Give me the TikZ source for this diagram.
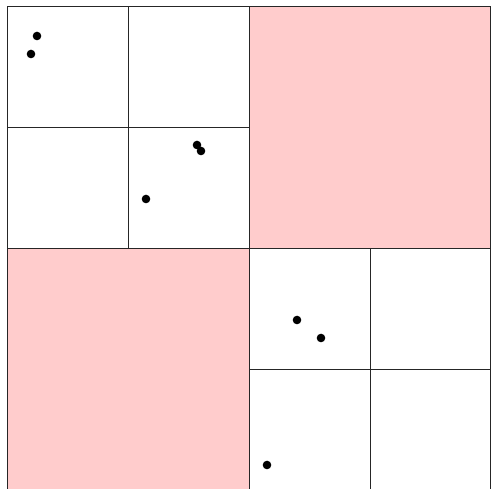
\documentclass[tikz,border=0pt]{standalone}
\usepackage{tikz}
\usetikzlibrary{backgrounds}
\definecolor{cellpink}{RGB}{255,204,204}
\tikzset{cell/.style={draw=black!85,line width=0.45pt},
         pt/.style={fill=black}}

\begin{document}
\begin{tikzpicture}[x=0.02cm,y=0.02cm]
	\useasboundingbox (0,0) rectangle (491,489);
	\clip (0,0) rectangle (491,489);
    % filled quadrants
    \fill[cellpink] (249,241) rectangle (490,483);
    \fill[cellpink] (7,-1) rectangle (249,241);
    % outer square and first split
    \draw[cell] (7,-1) rectangle (490,483);
    \draw[cell] (249,-1) -- (249,483);
    \draw[cell] (7,241) -- (490,241);
    % second split, top left
    \draw[cell] (128,241) -- (128,483);
    \draw[cell] (7,362) -- (249,362);
    % second split, bottom right
    \draw[cell] (370,-1) -- (370,241);
    \draw[cell] (249,120) -- (490,120);
    % points
    \foreach \px/\py in {37/453, 31/435, 197/344, 201/338, 146/290, 297/169, 321/151, 267/24}
        \fill[pt] (\px,\py) circle (4.3);
\end{tikzpicture}
\end{document}
